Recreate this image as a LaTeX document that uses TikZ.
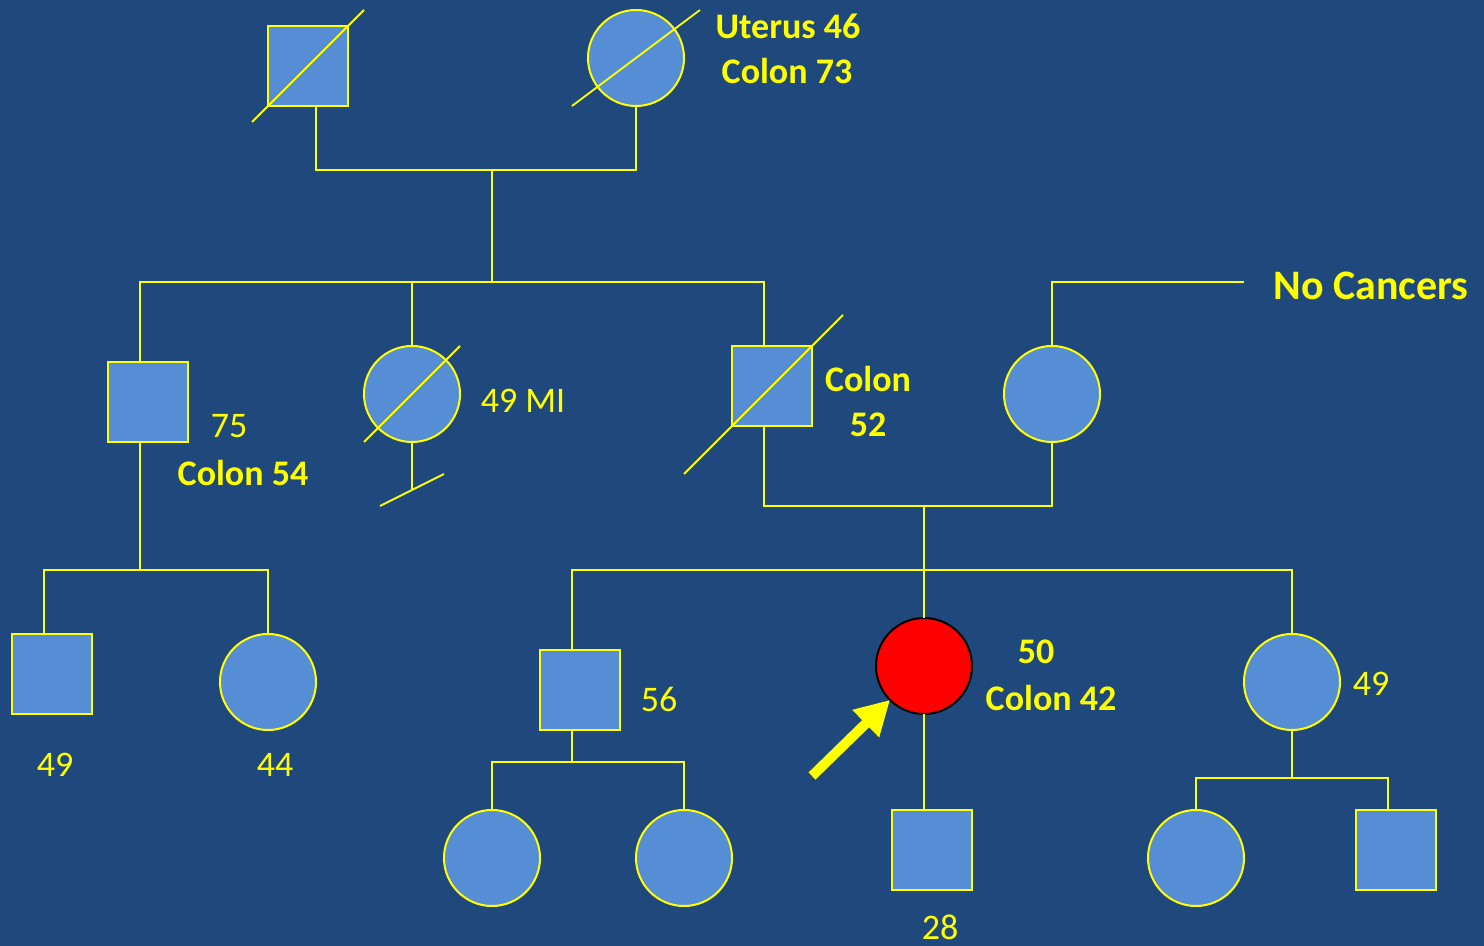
\documentclass[tikz,border=0pt]{standalone}
\usepackage{fontspec}
\setmainfont{Carlito}
\usetikzlibrary{arrows.meta,calc}
\definecolor{bgblue}{HTML}{1F497D}
\definecolor{fillblue}{HTML}{558ED5}
\definecolor{pyellow}{HTML}{FFFF00}
\definecolor{pred}{HTML}{FF0000}
\begin{document}
\begin{tikzpicture}[x=0.5pt,y=-0.5pt,
  male/.style={rectangle,draw=pyellow,line width=1pt,fill=fillblue,minimum size=40pt,inner sep=0pt,outer sep=0pt},
  female/.style={circle,draw=pyellow,line width=1pt,fill=fillblue,minimum size=48pt,inner sep=0pt,outer sep=0pt},
  proband/.style={circle,draw=black,line width=1pt,fill=pred,minimum size=48pt,inner sep=0pt,outer sep=0pt},
  link/.style={draw=pyellow,line width=1pt},
  slash/.style={draw=pyellow,line width=0.9pt},
  lab/.style={text=pyellow,font=\fontsize{18pt}{20pt}\selectfont,anchor=base,inner sep=0pt},
  blab/.style={lab,font=\fontsize{18pt}{20pt}\selectfont\bfseries},
  pointer/.style={draw=pyellow,line width=5pt,-{Triangle[length=17pt,width=18pt]}}]
\fill[bgblue] (0,0) rectangle (1484,946);
\useasboundingbox (0,0) rectangle (1484,946);

% generation I
\node[male] (gf) at (308,66) {};
\node[female] (gm) at (636,58) {};
\draw[slash] ($(gf.south west)+(-16,16)$) -- ($(gf.north east)+(16,-16)$);
\draw[slash] ($(gm.center)+(-64,48)$) -- ($(gm.center)+(64,-48)$);
\node[blab] (l1) at (788,39) {Uterus 46};
\node[blab] (l2) at (787,84) {Colon 73};
\coordinate (m1) at (492,170);
\draw[link] ([xshift=4pt]gf.south) |- (m1) -| (gm.south);
\coordinate (s1) at (492,282);
\draw[link] (m1) -- (s1);

% generation II
\node[male] (c1) at (148,402) {};
\node[female] (c2) at (412,394) {};
\node[male] (c3) at (772,386) {};
\node[female] (sp) at (1052,394) {};
\draw[link] ([xshift=-4pt]c1.north) |- (s1) -| ([xshift=-4pt]c3.north);
\draw[link] (c2.north) -- (c2.north |- s1);
\draw[slash] ($(c2.center)+(-48,48)$) -- ($(c2.center)+(48,-48)$);
\draw[slash] ($(c3.south west)+(-48,48)$) -- ($(c3.north east)+(31,-31)$);
\coordinate (c2end) at (412,490);
\draw[link] (c2.south) -- (c2end);
\draw[slash] ($(c2end)+(-32,16)$) -- ($(c2end)+(32,-16)$);
\coordinate (nc) at (1244,282);
\draw[link] (sp.north) |- (nc);
\node[lab] (l75) at (229,438) {75};
\node[blab] (lc54) at (243,486) {Colon 54};
\node[lab] (lmi) at (523,413) {49 MI};
\node[blab] (lc52a) at (868,392) {Colon};
\node[blab] (lc52b) at (868,437) {52};
\node[blab,font=\fontsize{21pt}{24pt}\selectfont\bfseries] (lnc) at (1371,300) {No Cancers};

% marriage c3 - sp
\coordinate (m2) at (924,506);
\draw[link] ([xshift=-4pt]c3.south) |- (m2) -| (sp.south);
\coordinate (s2) at (924,570);
\draw[link] (m2) -- (s2);

% children of c1
\node[male] (g1) at (52,674) {};
\node[female] (g2) at (268,682) {};
\coordinate (s3) at (140,570);
\draw[link] ([xshift=-4pt]c1.south) -- (s3);
\draw[link] ([xshift=-4pt]g1.north) |- (s3) -| (g2.north);
\node[lab] (l49a) at (55,776) {49};
\node[lab] (l44) at (275,776) {44};

% generation III (children of c3)
\node[male] (h1) at (580,690) {};
\node[proband] (pb) at (924,666) {};
\node[female] (h3) at (1292,682) {};
\draw[link] ([xshift=-4pt]h1.north) |- (s2) -| (h3.north);
\draw[link] (s2) -- (pb.north);
\node[lab] (l56) at (659,711) {56};
\node[blab] (l50) at (1036,663) {50};
\node[blab] (lc42) at (1051,710) {Colon 42};
\node[lab] (l49b) at (1371,695) {49};
\coordinate (arrtail) at (812,776);
\draw[pointer] (arrtail) -- ($(pb.center)!1.0!(pb.225)$);

% generation IV
\node[female] (k1) at (492,858) {};
\node[female] (k2) at (684,858) {};
\coordinate (s4) at (572,762);
\draw[link] ([xshift=-4pt]h1.south) -- (s4);
\draw[link] (k1.north) |- (s4) -| (k2.north);

\node[male] (k3) at (932,850) {};
\draw[link] (pb.south) -- ([xshift=-4pt]k3.north);
\node[lab] (l28) at (940,939) {28};

\node[female] (k4) at (1196,858) {};
\node[male] (k5) at (1396,850) {};
\coordinate (s5) at (1292,778);
\draw[link] (h3.south) -- (s5);
\draw[link] (k4.north) |- (s5) -| ([xshift=-4pt]k5.north);
\end{tikzpicture}
\end{document}
